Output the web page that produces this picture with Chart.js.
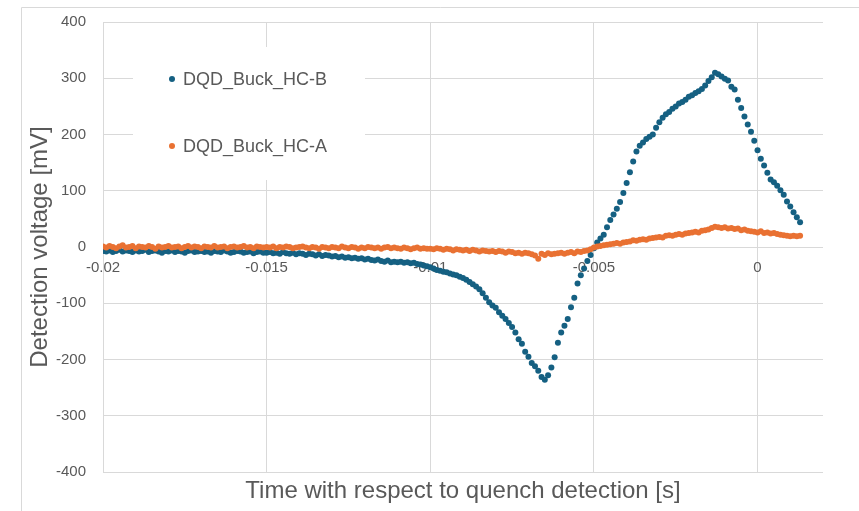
<!DOCTYPE html>
<html>
<head>
<meta charset="utf-8">
<script src="https://cdn.jsdelivr.net/npm/chart.js@4/dist/chart.umd.min.js"></script>
<style>
html,body{margin:0;padding:0;background:#fff;}
#wrap{width:859px;height:511px;position:relative;}
</style>
</head>
<body>
<div id="wrap"><canvas id="c" width="859" height="511"></canvas></div>
<script>
// Time samples [s]
const times = [
-0.0200,-0.0199,-0.0198,-0.0197,-0.0196,-0.0195,-0.0194,-0.0193,-0.0192,-0.0191,
-0.0190,-0.0189,-0.0188,-0.0187,-0.0186,-0.0185,-0.0184,-0.0183,-0.0182,-0.0181,
-0.0180,-0.0179,-0.0178,-0.0177,-0.0176,-0.0175,-0.0174,-0.0173,-0.0172,-0.0171,
-0.0170,-0.0169,-0.0168,-0.0167,-0.0166,-0.0165,-0.0164,-0.0163,-0.0162,-0.0161,
-0.0160,-0.0159,-0.0158,-0.0157,-0.0156,-0.0155,-0.0154,-0.0153,-0.0152,-0.0151,
-0.0150,-0.0149,-0.0148,-0.0147,-0.0146,-0.0145,-0.0144,-0.0143,-0.0142,-0.0141,
-0.0140,-0.0139,-0.0138,-0.0137,-0.0136,-0.0135,-0.0134,-0.0133,-0.0132,-0.0131,
-0.0130,-0.0129,-0.0128,-0.0127,-0.0126,-0.0125,-0.0124,-0.0123,-0.0122,-0.0121,
-0.0120,-0.0119,-0.0118,-0.0117,-0.0116,-0.0115,-0.0114,-0.0113,-0.0112,-0.0111,
-0.0110,-0.0109,-0.0108,-0.0107,-0.0106,-0.0105,-0.0104,-0.0103,-0.0102,-0.0101,
-0.0100,-0.0099,-0.0098,-0.0097,-0.0096,-0.0095,-0.0094,-0.0093,-0.0092,-0.0091,
-0.0090,-0.0089,-0.0088,-0.0087,-0.0086,-0.0085,-0.0084,-0.0083,-0.0082,-0.0081,
-0.0080,-0.0079,-0.0078,-0.0077,-0.0076,-0.0075,-0.0074,-0.0073,-0.0072,-0.0071,
-0.0070,-0.0069,-0.0068,-0.0067,-0.0066,-0.0065,-0.0064,-0.0063,-0.0062,-0.0061,
-0.0060,-0.0059,-0.0058,-0.0057,-0.0056,-0.0055,-0.0054,-0.0053,-0.0052,-0.0051,
-0.0050,-0.0049,-0.0048,-0.0047,-0.0046,-0.0045,-0.0044,-0.0043,-0.0042,-0.0041,
-0.0040,-0.0039,-0.0038,-0.0037,-0.0036,-0.0035,-0.0034,-0.0033,-0.0032,-0.0031,
-0.0030,-0.0029,-0.0028,-0.0027,-0.0026,-0.0025,-0.0024,-0.0023,-0.0022,-0.0021,
-0.0020,-0.0019,-0.0018,-0.0017,-0.0016,-0.0015,-0.0014,-0.0013,-0.0012,-0.0011,
-0.0010,-0.0009,-0.0008,-0.0007,-0.0006,-0.0005,-0.0004,-0.0003,-0.0002,-0.0001,
0.0000,0.0001,0.0002,0.0003,0.0004,0.0005,0.0006,0.0007,0.0008,0.0009,
0.0010,0.0011,0.0012,0.0013
];

// DQD_Buck_HC-B [mV]
const seriesB = [
-7,-8,-6,-9,-7,-5,-8,-6,-7,-9,
-6,-8,-7,-5,-9,-7,-6,-8,-10,-7,
-8,-6,-9,-7,-8,-10,-7,-6,-9,-8,
-7,-9,-8,-10,-7,-8,-9,-6,-8,-10,
-9,-7,-8,-10,-9,-8,-11,-9,-8,-10,
-10,-9,-11,-10,-12,-9,-11,-12,-10,-13,
-11,-12,-14,-12,-13,-15,-13,-16,-14,-15,
-17,-16,-18,-17,-19,-18,-20,-19,-21,-20,
-22,-21,-23,-24,-22,-25,-26,-24,-27,-26,
-27,-26,-28,-27,-29,-28,-30,-31,-33,-34,
-36,-38,-41,-42,-44,-45,-47,-49,-50,-53,
-55,-58,-62,-66,-70,-75,-82,-90,-98,-104,
-108,-116,-122,-128,-135,-142,-152,-164,-172,-186,
-195,-206,-212,-220,-231,-236,-228,-214,-196,-170,
-152,-140,-128,-107,-90,-65,-50,-38,-25,-14,
-2,8,15,22,35,48,58,68,80,96,
114,133,152,170,180,186,192,196,200,212,
222,230,236,240,246,250,255,258,262,267,
270,274,277,281,287,295,302,310,307,303,
299,296,285,280,262,247,232,218,205,189,
172,157,145,132,120,115,109,101,93,81,
72,62,53,44,43
];

// DQD_Buck_HC-A [mV]
const seriesA = [
1,-1,2,0,-2,1,3,-1,0,2,
-2,1,0,-1,2,0,-3,1,-1,0,
2,-1,0,1,-2,0,2,-1,1,0,
-2,1,0,-1,2,-1,0,1,-2,0,
1,-1,0,2,-1,0,-2,1,0,-1,
0,-1,1,-2,0,-1,1,0,-2,-1,
0,1,-1,-2,0,-1,-3,0,-1,-2,
0,-1,-2,1,-1,-2,0,-1,-3,-1,
-2,0,-1,-2,-1,-3,-1,0,-2,-1,
-2,-3,-1,-2,-4,-2,-1,-3,-2,-3,
-3,-4,-2,-3,-5,-3,-4,-6,-4,-5,
-6,-5,-7,-5,-6,-8,-6,-7,-8,-7,
-9,-7,-8,-10,-8,-9,-11,-10,-12,-10,
-11,-13,-15,-21,-12,-14,-11,-13,-12,-11,
-10,-12,-10,-9,-11,-8,-9,-7,-6,-4,
-1,1,2,3,4,5,6,7,6,8,
9,10,12,11,13,14,13,15,16,17,
18,17,20,21,20,22,23,22,24,25,
26,27,26,29,30,31,34,36,35,34,
35,33,34,32,33,30,31,29,28,27,
26,28,25,26,24,25,23,22,21,20,
19,20,19,20
];

const seriesLabels = ['DQD_Buck_HC-B', 'DQD_Buck_HC-A'];
const xTickValues = [-0.02, -0.015, -0.01, -0.005, 0];
const xTickLabels = ['-0.02', '-0.015', '-0.01', '-0.005', '0'];
const yTickValues = [400, 300, 200, 100, 0, -100, -200, -300, -400];
const yTickLabels = ['400', '300', '200', '100', '0', '-100', '-200', '-300', '-400'];

const BLUE = '#156082';
const ORANGE = '#E97132';
const TXT = '#595959';
const GRID = '#d9d9d9';
const FONT = "'Liberation Sans', Arial, sans-serif";

function xLabel(v) {
  const i = xTickValues.findIndex(t => Math.abs(t - v) < 1e-9);
  return i >= 0 ? xTickLabels[i] : '';
}
function yLabel(v) {
  const i = yTickValues.findIndex(t => Math.abs(t - v) < 1e-9);
  return i >= 0 ? yTickLabels[i] : '';
}

const legendPlugin = {
  id: 'insideLegend',
  beforeDatasetsDraw(chart) {
    const ctx = chart.ctx;
    ctx.save();
    ctx.fillStyle = '#ffffff';
    ctx.fillRect(133, 47, 232, 133);
    const rows = [79, 146];
    chart.data.datasets.forEach((ds, i) => {
      ctx.beginPath();
      ctx.fillStyle = ds.backgroundColor;
      ctx.arc(172, rows[i], 3, 0, Math.PI * 2);
      ctx.fill();
      ctx.fillStyle = TXT;
      ctx.font = "18px " + FONT;
      ctx.textAlign = 'left';
      ctx.textBaseline = 'middle';
      ctx.fillText(ds.label, 183, rows[i] + 1);
    });
    ctx.restore();
  },
  afterDraw(chart) {
    const ctx = chart.ctx;
    ctx.save();
    ctx.strokeStyle = GRID;
    ctx.lineWidth = 1;
    ctx.beginPath();
    ctx.moveTo(21.5, 511);
    ctx.lineTo(21.5, 7.5);
    ctx.lineTo(859, 7.5);
    ctx.stroke();
    ctx.restore();
  }
};

new Chart(document.getElementById('c'), {
  type: 'scatter',
  data: {
    datasets: [
      {
        label: seriesLabels[0],
        data: times.map((t, i) => ({ x: t, y: seriesB[i] })),
        backgroundColor: BLUE,
        borderColor: BLUE,
        pointRadius: 3,
        borderWidth: 0,
        order: 2
      },
      {
        label: seriesLabels[1],
        data: times.map((t, i) => ({ x: t, y: seriesA[i] })),
        backgroundColor: ORANGE,
        borderColor: ORANGE,
        pointRadius: 3,
        borderWidth: 0,
        order: 1
      }
    ]
  },
  options: {
    responsive: false,
    animation: false,
    layout: { padding: { left: 20, right: 36, top: 22, bottom: 0 } },
    plugins: {
      legend: { display: false },
      tooltip: { enabled: false }
    },
    scales: {
      x: {
        type: 'linear',
        min: -0.02,
        max: 0.002,
        position: 'bottom',
        afterFit: s => { s.height = 39; },
        grid: { color: GRID, drawTicks: false, lineWidth: 1 },
        border: { display: false },
        ticks: { display: false, stepSize: 0.005, includeBounds: false },
        title: {
          display: true,
          text: 'Time with respect to quench detection [s]',
          color: TXT,
          font: { family: FONT, size: 24 },
          padding: { top: 0, bottom: 5 }
        }
      },
      x2: {
        type: 'linear',
        axis: 'x',
        min: -0.02,
        max: 0.002,
        position: { y: 0 },
        grid: { display: false, drawTicks: false },
        border: { display: false },
        ticks: {
          stepSize: 0.005,
          includeBounds: false,
          padding: 12,
          color: TXT,
          font: { family: FONT, size: 15 },
          maxRotation: 0,
          callback: v => xLabel(v)
        }
      },
      y: {
        type: 'linear',
        min: -400,
        max: 400,
        afterFit: s => { s.width = 83; s.paddingTop = 0; s.paddingBottom = 0; },
        grid: { color: GRID, drawTicks: false, lineWidth: 1 },
        border: { display: false },
        ticks: {
          stepSize: 100,
          padding: 17,
          color: TXT,
          font: { family: FONT, size: 15 },
          callback: v => yLabel(v)
        },
        title: {
          display: true,
          text: 'Detection voltage [mV]',
          color: TXT,
          font: { family: FONT, size: 24 },
          padding: { top: 6, bottom: 0 }
        }
      }
    }
  },
  plugins: [legendPlugin]
});
</script>
</body>
</html>
